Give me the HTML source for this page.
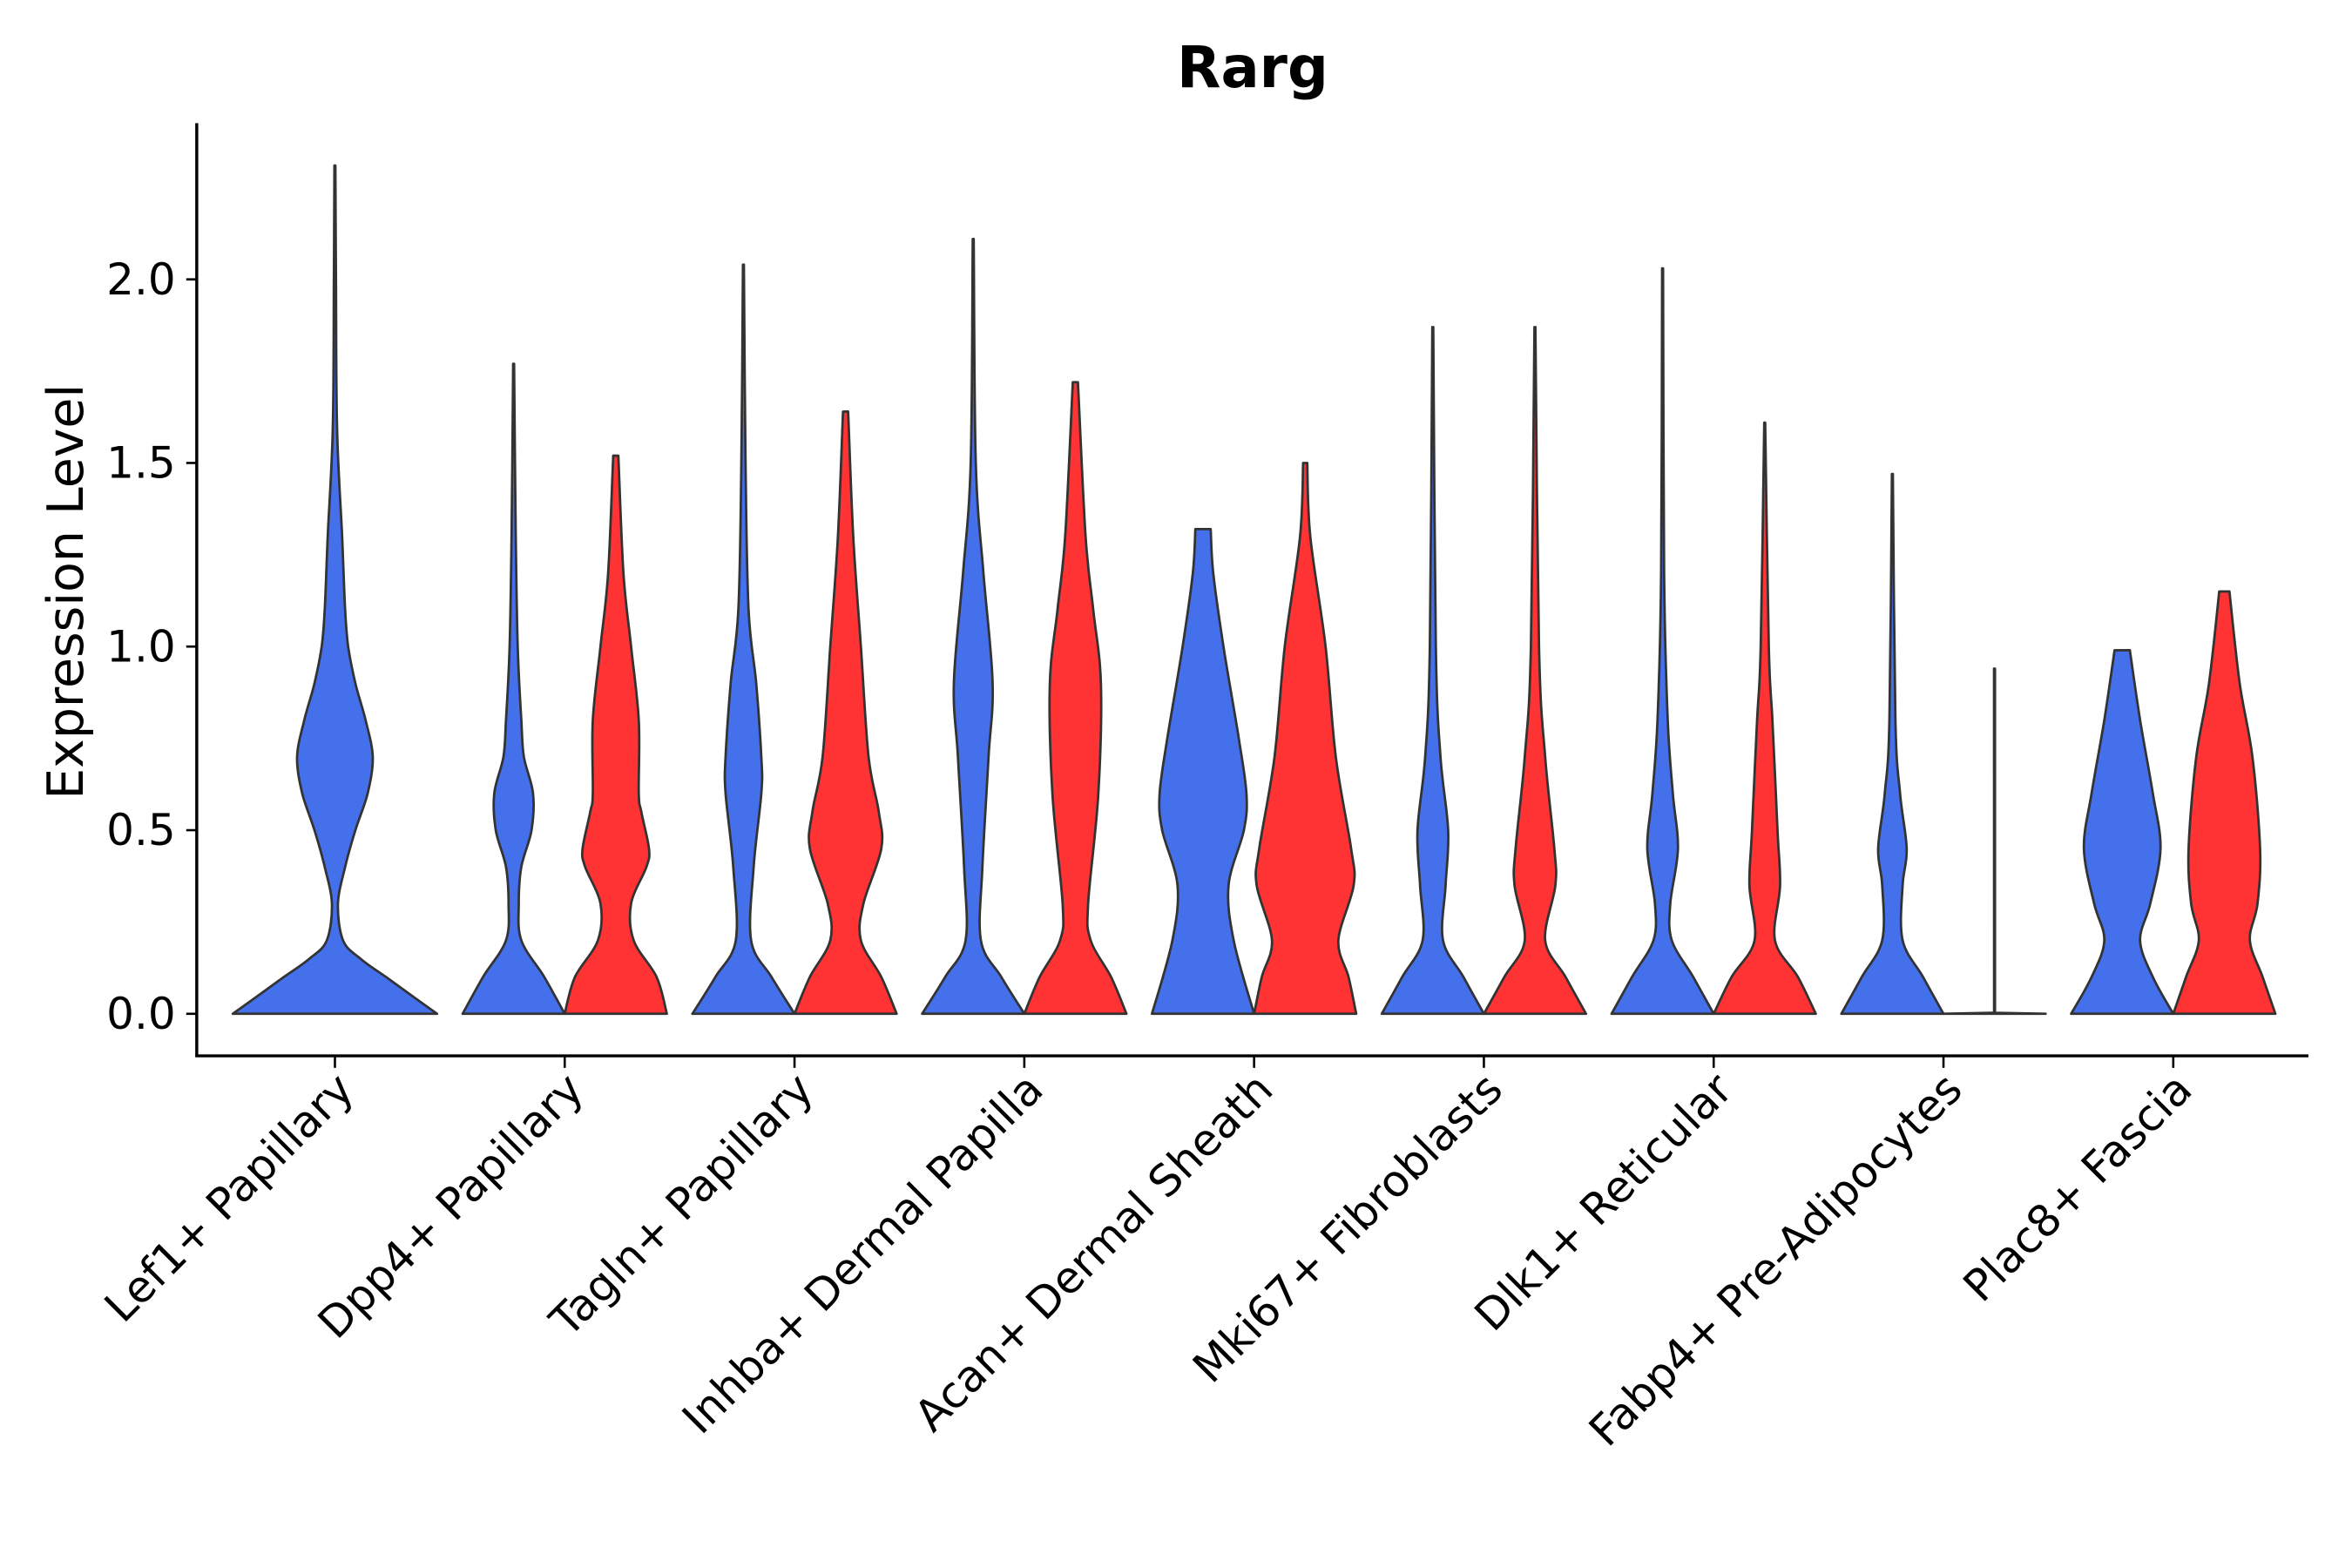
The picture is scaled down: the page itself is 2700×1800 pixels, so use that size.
<!DOCTYPE html>
<html><head><meta charset="utf-8"><style>html,body{margin:0;padding:0;background:#fff}svg{display:block}</style></head>
<body>
<svg id="chart" width="2700" height="1800" viewBox="0 0 1566 1044" xmlns="http://www.w3.org/2000/svg" font-family="'DejaVu Sans','Liberation Sans',sans-serif">
<rect width="1566" height="1044" fill="#fff"/>
<text x="834" y="58" text-anchor="middle" font-size="38" font-weight="bold">Rarg</text>
<text transform="translate(55,394) rotate(-90)" text-anchor="middle" font-size="33">Expression Level</text>
<g id="axes"></g>
<g id="violins"></g>
</svg>
<script>
const categories = ["Lef1+ Papillary","Dpp4+ Papillary","Tagln+ Papillary","Inhba+ Dermal Papilla","Acan+ Dermal Sheath","Mki67+ Fibroblasts","Dlk1+ Reticular","Fabp4+ Pre-Adipocytes","Plac8+ Fascia"];
const yTicks = [0,0.5,1.0,1.5,2.0];
const yTickLabels = ["0.0","0.5","1.0","1.5","2.0"];
// density profiles: [level, relative half-width]
const blueLevels = [
 [[0,1],[0.05,0.75],[0.1,0.5],[0.15,0.25],[0.2,0.08],[0.3,0.03],[0.4,0.1],[0.5,0.2],[0.6,0.32],[0.7,0.37],[0.8,0.3],[0.9,0.2],[1.0,0.13],[1.1,0.1],[1.3,0.07],[1.6,0.02],[2.0,0.01],[2.31,0.005]],
 [[0,1],[0.1,0.6],[0.2,0.15],[0.3,0.1],[0.4,0.15],[0.5,0.35],[0.6,0.38],[0.7,0.2],[0.8,0.15],[1.0,0.08],[1.3,0.04],[1.77,0.01]],
 [[0,1],[0.1,0.55],[0.2,0.15],[0.4,0.2],[0.6,0.35],[0.7,0.35],[0.9,0.25],[1.1,0.1],[1.5,0.04],[2.04,0.01]],
 [[0,1],[0.1,0.55],[0.2,0.15],[0.4,0.18],[0.7,0.3],[0.9,0.38],[1.2,0.2],[1.5,0.05],[2.11,0.01]],
 [[0,1],[0.2,0.6],[0.35,0.5],[0.5,0.8],[0.6,0.85],[0.75,0.7],[1.0,0.4],[1.2,0.2],[1.32,0.15]],
 [[0,1],[0.1,0.6],[0.2,0.2],[0.35,0.25],[0.5,0.3],[0.7,0.15],[1.0,0.06],[1.87,0.01]],
 [[0,1],[0.1,0.6],[0.2,0.18],[0.3,0.15],[0.45,0.3],[0.6,0.2],[0.8,0.1],[1.2,0.03],[2.03,0.01]],
 [[0,1],[0.1,0.6],[0.2,0.2],[0.35,0.2],[0.45,0.28],[0.6,0.15],[0.8,0.06],[1.47,0.01]],
 [[0,1],[0.1,0.6],[0.2,0.35],[0.3,0.55],[0.45,0.75],[0.6,0.6],[0.8,0.35],[0.99,0.15]]
];
const redLevels = [
 null,
 [[0,1],[0.1,0.8],[0.2,0.35],[0.3,0.3],[0.4,0.6],[0.45,0.65],[0.55,0.5],[0.6,0.45],[0.8,0.45],[1.0,0.3],[1.2,0.15],[1.52,0.05]],
 [[0,1],[0.1,0.7],[0.2,0.3],[0.3,0.35],[0.45,0.7],[0.55,0.65],[0.7,0.45],[1.0,0.3],[1.3,0.15],[1.64,0.05]],
 [[0,1],[0.1,0.7],[0.2,0.3],[0.3,0.25],[0.6,0.45],[0.9,0.5],[1.1,0.35],[1.3,0.2],[1.72,0.05]],
 [[0,1],[0.1,0.85],[0.2,0.65],[0.35,0.95],[0.45,0.9],[0.7,0.6],[1.0,0.4],[1.3,0.1],[1.5,0.04]],
 [[0,1],[0.1,0.6],[0.2,0.2],[0.35,0.4],[0.45,0.38],[0.7,0.2],[1.0,0.08],[1.87,0.01]],
 [[0,1],[0.1,0.65],[0.2,0.2],[0.35,0.3],[0.5,0.25],[0.8,0.15],[1.0,0.08],[1.61,0.01]],
 [[0,1],[0.003,0.01],[0.94,0.01]],
 [[0,1],[0.1,0.75],[0.2,0.5],[0.3,0.65],[0.45,0.7],[0.7,0.55],[0.9,0.3],[1.15,0.1]]
];
const NS="http://www.w3.org/2000/svg";
const yScale = v => 675 - v*244.5;
const xCat = i => 223 + i*153;
function mk(tag, attrs, parent){const e=document.createElementNS(NS,tag);for(const k in attrs)e.setAttribute(k,attrs[k]);parent.appendChild(e);return e;}
const axes=document.getElementById('axes'), vg=document.getElementById('violins');
let yl=mk('line',{x1:131,y1:82,x2:131,y2:703,stroke:'#000','stroke-width':2},axes);


let xl=mk('line',{x1:130,y1:703,x2:1537,y2:703,stroke:'#000','stroke-width':2},axes);


yTicks.forEach((t,i)=>{
  const y=yScale(t);
  const tk=mk('line',{x1:124,y1:y,x2:131,y2:y,stroke:'#000','stroke-width':1.5},axes);
  
  
  const tx=mk('text',{x:117,y:y+10,'text-anchor':'end','font-size':29,fill:'#000'},axes);
  tx.textContent=yTickLabels[i];
  
  
});
categories.forEach((c,i)=>{
  const x=xCat(i);
  const tk=mk('line',{x1:x,y1:703,x2:x,y2:711,stroke:'#000','stroke-width':1.5},axes);
  
  
  const tx=mk('text',{transform:`translate(${x+14},${727}) rotate(-45)`,'text-anchor':'end','font-size':29,fill:'#000'},axes);
  tx.textContent=c;
  
  
});
function smooth(pts){
  if(pts.length<4) return pts.slice(1).map(p=>`L${p[0].toFixed(1)},${p[1].toFixed(1)}`).join('');
  let d='';
  for(let i=0;i<pts.length-1;i++){
    const p0=pts[Math.max(0,i-1)],p1=pts[i],p2=pts[i+1],p3=pts[Math.min(pts.length-1,i+2)];
    const c1=[p1[0]+(p2[0]-p0[0])/6,p1[1]+(p2[1]-p0[1])/6];
    const c2=[p2[0]-(p3[0]-p1[0])/6,p2[1]-(p3[1]-p1[1])/6];
    d+=`C${c1[0].toFixed(1)},${c1[1].toFixed(1)} ${c2[0].toFixed(1)},${c2[1].toFixed(1)} ${p2[0].toFixed(1)},${p2[1].toFixed(1)}`;
  }
  return d;
}
function violin(prof, cx, half, fill, name){
  const r=prof.map(([v,w])=>[cx+w*half,yScale(v)]);
  const l=prof.map(([v,w])=>[cx-w*half,yScale(v)]).reverse();
  const d=`M${l[l.length-1][0]},${l[l.length-1][1]}L${r[0][0]},${r[0][1]}`+smooth(r)+`L${l[0][0]},${l[0][1]}`+smooth(l)+'Z';
  const p=mk('path',{d:d,fill:fill,stroke:'#333','stroke-width':1.6,'stroke-linejoin':'round'},vg);
  
  
}
categories.forEach((c,i)=>{
  const x=xCat(i);
  if(!redLevels[i]){ violin(blueLevels[i],x,68,'#4570ec','violin-blue-'+i); }
  else {
    violin(blueLevels[i],x-34,34,'#4570ec','violin-blue-'+i);
    violin(redLevels[i],x+34,34,'#ff3333','violin-red-'+i);
  }
});
</script>
</body></html>
